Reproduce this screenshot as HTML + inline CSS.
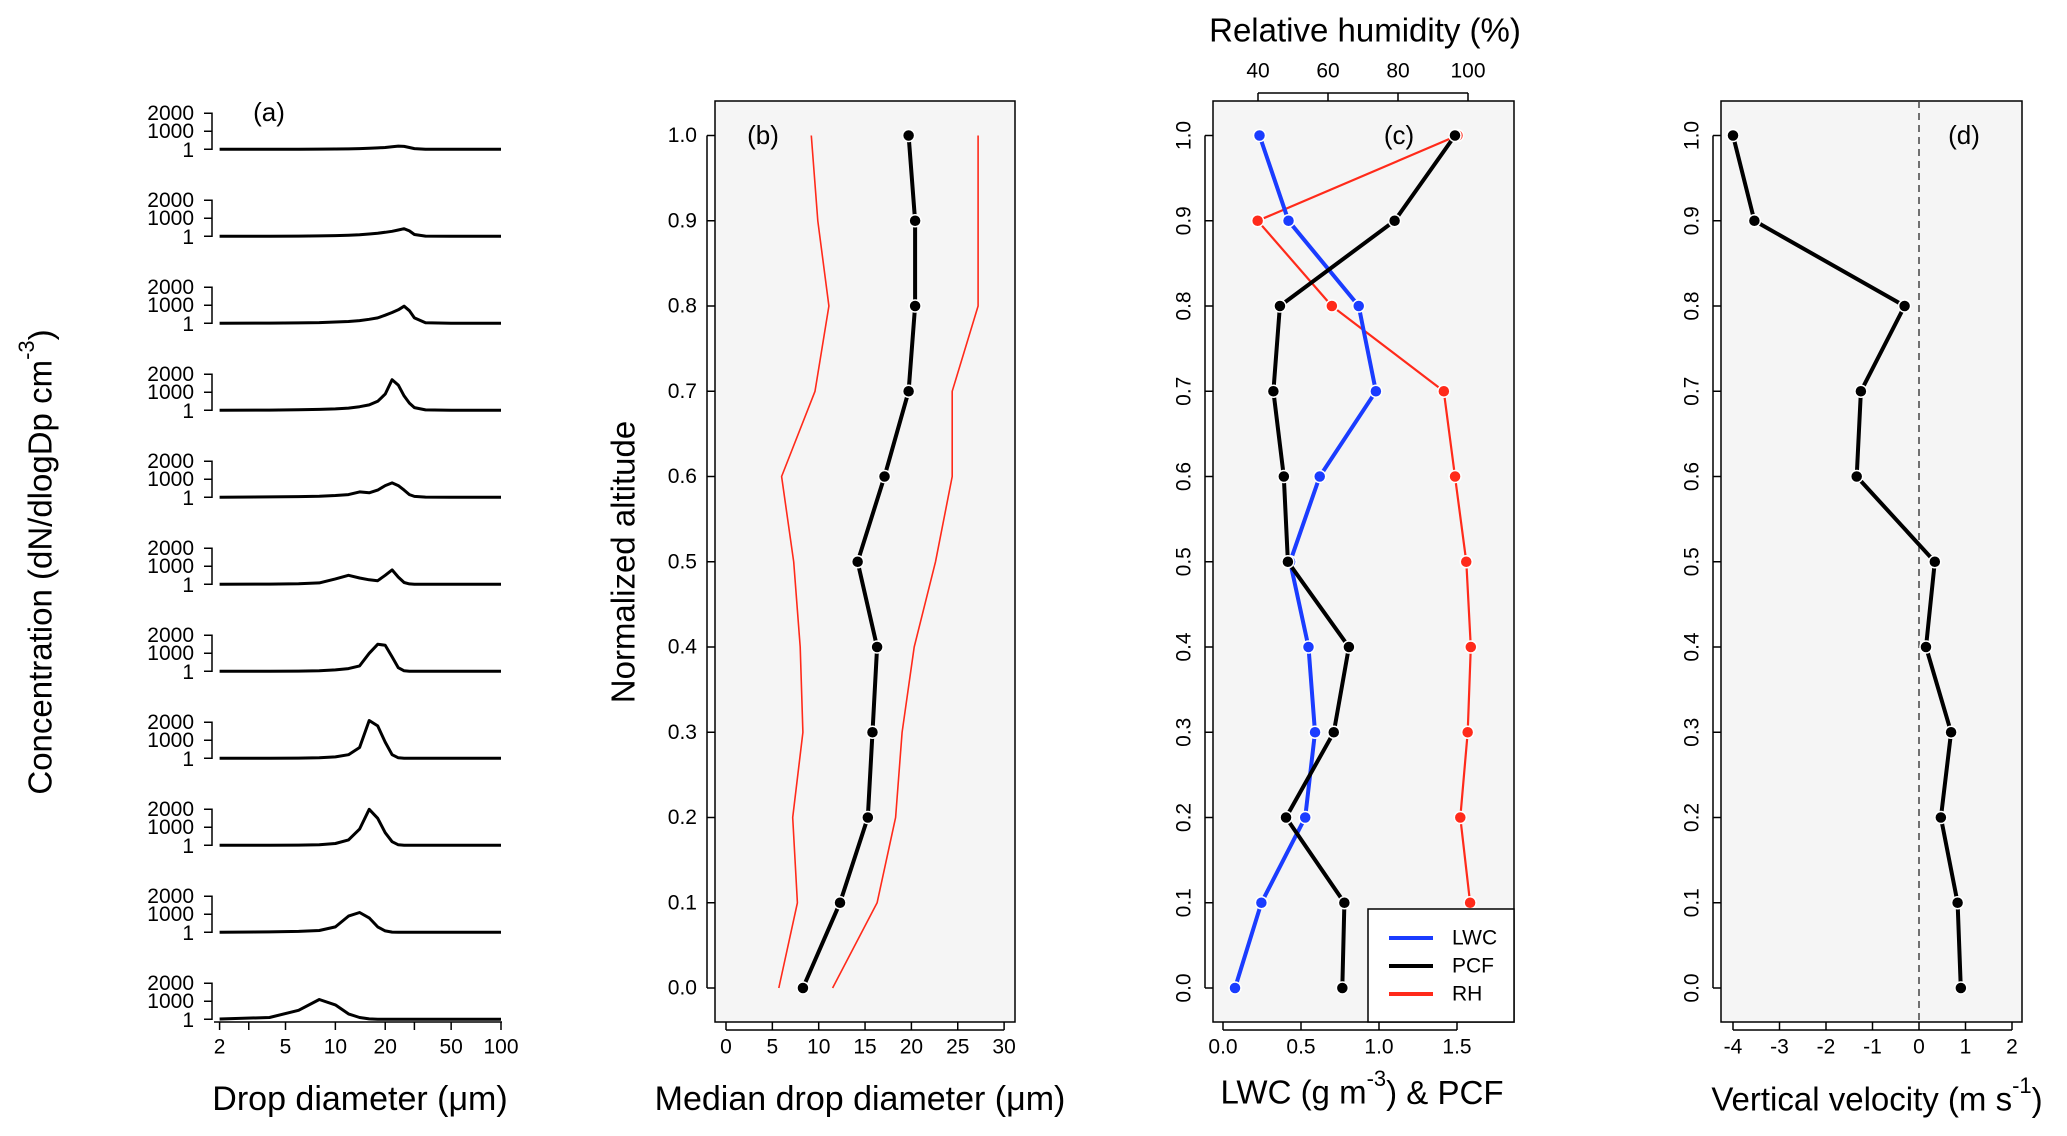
<!DOCTYPE html>
<html><head><meta charset="utf-8"><style>
html,body{margin:0;padding:0;background:#fff;}
svg{display:block;font-family:"Liberation Sans",Arial,sans-serif;}
</style></head><body>
<svg id="fig" width="2067" height="1136" viewBox="0 0 2067 1136" xmlns="http://www.w3.org/2000/svg"></svg>
<script>
// ---------- data ----------
const altitudes = [0,0.1,0.2,0.3,0.4,0.5,0.6,0.7,0.8,0.9,1.0];
// panel a: size distributions (rows top -> bottom = altitude 1.0 -> 0.0)
const diameters = [2,4,6,8,10,12,14,16,18,20,22,24,26,28,30,35,50,100];
const spectra = [
 [0,0,5,10,15,25,40,60,80,100,140,180,160,100,40,0,0,0],
 [0,0,10,20,40,60,90,130,170,220,280,350,420,300,100,10,0,0],
 [0,10,20,40,70,100,150,220,300,450,600,750,950,700,300,30,0,0],
 [0,10,30,50,80,120,200,300,500,900,1700,1400,800,400,150,20,0,0],
 [0,20,40,60,100,150,300,250,400,650,800,650,400,150,50,10,0,0],
 [0,10,30,80,300,500,350,250,200,500,800,400,100,20,0,0,0,0],
 [0,0,10,30,80,150,300,1000,1500,1450,800,200,30,0,0,0,0,0],
 [0,0,10,30,80,200,600,2100,1800,900,200,30,0,0,0,0,0,0],
 [0,0,10,30,100,300,900,2000,1500,700,200,30,0,0,0,0,0,0],
 [0,20,50,100,300,900,1100,800,300,80,10,0,0,0,0,0,0,0],
 [20,100,500,1100,800,300,100,20,0,0,0,0,0,0,0,0,0,0]
];
const aTicks = [2,3,5,10,20,30,50,100];
const aTickLabels = ["2","","5","10","20","","50","100"];
// panel b
const medianD = [8.3,12.3,15.3,15.8,16.3,14.2,17.1,19.7,20.4,20.4,19.7];
const lowerD  = [5.7,7.7,7.2,8.3,8.0,7.3,6.0,9.6,11.1,9.9,9.2];
const upperD  = [11.5,16.3,18.3,19.0,20.3,22.6,24.4,24.4,27.2,27.2,27.2];
const bTicks = [0,5,10,15,20,25,30];
// panel c
const lwc = [0.077,0.246,0.527,0.59,0.548,0.43,0.62,0.98,0.87,0.42,0.234];
const pcf = [0.765,0.778,0.404,0.71,0.807,0.416,0.39,0.323,0.365,1.10,1.487];
const rhAlt = [0.1,0.2,0.3,0.4,0.5,0.6,0.7,0.8,0.9,1.0];
const rh = [100.6,97.8,99.9,100.8,99.5,96.3,93.1,61.1,39.9,97.0];
const cTicks = [0,0.5,1.0,1.5];
const cTickLabels = ["0.0","0.5","1.0","1.5"];
const rhTicks = [40,60,80,100];
// panel d
const vvel = [0.90,0.83,0.47,0.69,0.15,0.34,-1.34,-1.25,-0.31,-3.54,-4.0];
const dTicks = [-4,-3,-2,-1,0,1,2];
const yTicks = [0,0.1,0.2,0.3,0.4,0.5,0.6,0.7,0.8,0.9,1.0];

// ---------- helpers ----------
const svg = document.getElementById('fig');
const NS = 'http://www.w3.org/2000/svg';
function el(tag, attrs, parent){ const e=document.createElementNS(NS,tag); for(const k in attrs) e.setAttribute(k,attrs[k]); (parent||svg).appendChild(e); return e; }
function txt(s, x, y, size, anchor, parent, rot){ const t=el('text',{x:x,y:y,'font-size':size,'text-anchor':anchor||'middle','dominant-baseline':'central',fill:'#000'},parent); if(rot) t.setAttribute('transform','rotate('+rot+' '+x+' '+y+')'); t.textContent=s; return t; }
const yA = v => 988 - v*852.5;
const TOP=101, BOT=1022;

// ---------- panel a ----------
const ga = el('g',{});  
const xa = d => 219.6 + (Math.log10(d)-Math.log10(2))/(Math.log10(100)-Math.log10(2))*(501-219.6);
const rowY0 = 149.3, rowStep = 87, cScale = 36/2000;
spectra.forEach((row,i)=>{
  const base = rowY0 + i*rowStep;
  const g = el('g',{},ga);
  
  
  el('path',{d:`M204 ${base-36} H212 V${base} H204 M204 ${base-18} H212`,stroke:'#000','stroke-width':1.5,fill:'none'},g);
  txt('2000',194,base-36,21,'end',g); txt('1000',194,base-18,21,'end',g); txt('1',194,base+1,21,'end',g);
  let d = `M${xa(2)} ${base-row[0]*cScale}`;
  for(let k=1;k<diameters.length;k++) d += ` L${xa(diameters[k]).toFixed(1)} ${(base-row[k]*cScale).toFixed(1)}`;
  const p = el('path',{d:d,stroke:'#000','stroke-width':3,fill:'none','stroke-linejoin':'round'},g);
  
});
el('line',{x1:214,x2:502,y1:BOT,y2:BOT,stroke:'#000','stroke-width':1.5},ga);
aTicks.forEach((t,i)=>{ el('line',{x1:xa(t),x2:xa(t),y1:BOT,y2:BOT+8,stroke:'#000','stroke-width':1.5},ga); if(aTickLabels[i]) txt(aTickLabels[i],xa(t),1047,21,'middle',ga); });
txt('(a)',269,112,26,'middle',ga);
const at = txt('Drop diameter (μm)',360,1099,34,'middle',ga); 
const ay = el('text',{x:40,y:562,'font-size':33,'text-anchor':'middle','dominant-baseline':'central',transform:'rotate(-90 40 562)'},ga);

ay.innerHTML = 'Concentration (dN/dlogDp cm<tspan dy="-14" font-size="22">-3</tspan><tspan dy="14">)</tspan>';

function frame(g, x0, x1){
  el('rect',{x:x0,y:TOP,width:x1-x0,height:BOT-TOP,fill:'#f5f5f5',stroke:'#000','stroke-width':1.5},g);
}
function yAxis(g, x0, labelX, rotated){
  el('line',{x1:x0-8,x2:x0-8,y1:yA(0),y2:yA(1),stroke:'#000','stroke-width':1.5},g);
  yTicks.forEach(t=>{ el('line',{x1:x0-8,x2:x0,y1:yA(t),y2:yA(t),stroke:'#000','stroke-width':1.5},g);
    if(rotated) txt(t.toFixed(1),labelX,yA(t),21,'middle',g,-90); else txt(t.toFixed(1),labelX,yA(t),21,'end',g); });
}
function xAxis(g, xs, ticks, labels){
  el('line',{x1:xs(ticks[0]),x2:xs(ticks[ticks.length-1]),y1:BOT+8,y2:BOT+8,stroke:'#000','stroke-width':1.5},g);
  ticks.forEach((t,i)=>{ el('line',{x1:xs(t),x2:xs(t),y1:BOT,y2:BOT+8,stroke:'#000','stroke-width':1.5},g); txt(labels[i],xs(t),1047,21,'middle',g); });
}
function series(g, xs, vals, alts, color, w, r, name){
  const sg = el('g',{},g);
  
  
  const pts = vals.map((v,i)=>xs(v).toFixed(1)+','+yA(alts[i]).toFixed(1)).join(' ');
  el('polyline',{points:pts,stroke:color,'stroke-width':w,fill:'none','stroke-linejoin':'round'},sg);
  if(r) vals.forEach((v,i)=>{ const c=el('circle',{cx:xs(v),cy:yA(alts[i]),r:r,fill:color,stroke:'#fff','stroke-width':1.5},sg);  });
}

// ---------- panel b ----------
const gb = el('g',{transform:'translate(-5,0)'});  
const xb = v => 731 + v*9.27;
frame(gb,720,1020);
yAxis(gb,720,702,false);
xAxis(gb,xb,bTicks,bTicks.map(String));
series(gb,xb,lowerD,altitudes,'#ff2a1a',1.6,0,'lower-bound-line');
series(gb,xb,upperD,altitudes,'#ff2a1a',1.6,0,'upper-bound-line');
series(gb,xb,medianD,altitudes,'#000',4,6,'median-line');
txt('(b)',768,135,26,'middle',gb);
const bx = txt('Median drop diameter (μm)',865,1099,34,'middle',gb); 
const by = txt('Normalized altitude',628,562,33,'middle',gb,-90); 

// ---------- panel c ----------
const gc = el('g',{transform:'translate(-7,0)'});  
const xc = v => 1230 + v*156;
const xr = v => 1265 + (v-40)*3.5;
frame(gc,1220,1521);
yAxis(gc,1220,1191,true);
xAxis(gc,xc,cTicks,cTickLabels);
el('line',{x1:xr(40),x2:xr(100),y1:TOP-8,y2:TOP-8,stroke:'#000','stroke-width':1.5},gc);
rhTicks.forEach(t=>{ el('line',{x1:xr(t),x2:xr(t),y1:TOP-8,y2:TOP,stroke:'#000','stroke-width':1.5},gc); txt(String(t),xr(t),71,21,'middle',gc); });
series(gc,xr,rh,rhAlt,'#ff2a1a',2.2,6,'rh-line');
series(gc,xc,lwc,altitudes,'#1a3cff',4,6,'lwc-line');
series(gc,xc,pcf,altitudes,'#000',4,6,'pcf-line');
txt('(c)',1406,135,26,'middle',gc);
const rt = txt('Relative humidity (%)',1372,30,33,'middle',gc); 
const cx = el('text',{x:1369,y:1092,'font-size':33,'text-anchor':'middle','dominant-baseline':'central'},gc);

cx.innerHTML='LWC (g m<tspan dy="-14" font-size="22">-3</tspan><tspan dy="14">) &amp; PCF</tspan>';
const lg = el('g',{},gc);  
el('rect',{x:1375,y:909,width:146,height:113,fill:'#fff',stroke:'#000','stroke-width':1.5},lg);
[['LWC','#1a3cff',938],['PCF','#000',966],['RH','#ff2a1a',994]].forEach(([n,c,y])=>{
  const e=el('g',{},lg);  
  el('line',{x1:1396,x2:1440,y1:y,y2:y,stroke:c,'stroke-width':4},e); txt(n,1459,y,21,'start',e);
});

// ---------- panel d ----------
const gd = el('g',{transform:'translate(-6,0)'});  
const xd = v => 1925 + v*46.5;
frame(gd,1727,2028);
yAxis(gd,1727,1698,true);
xAxis(gd,xd,dTicks,dTicks.map(String));
el('line',{x1:xd(0),x2:xd(0),y1:TOP,y2:BOT,stroke:'#444','stroke-width':1.5,'stroke-dasharray':'7,5'},gd);
series(gd,xd,vvel,altitudes,'#000',4,6,'velocity-line');
txt('(d)',1970,135,26,'middle',gd);
const dx = el('text',{x:1883,y:1099,'font-size':33,'text-anchor':'middle','dominant-baseline':'central'},gd);

dx.innerHTML='Vertical velocity (m s<tspan dy="-14" font-size="22">-1</tspan><tspan dy="14">)</tspan>';
</script>
</body></html>
